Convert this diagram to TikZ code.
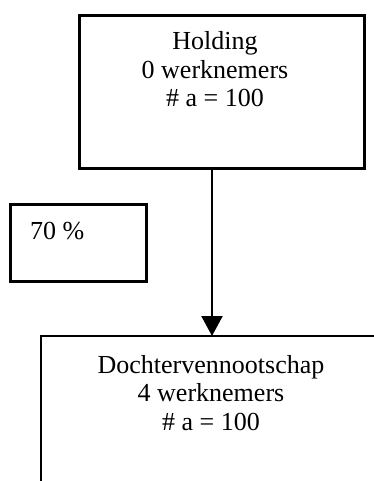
\documentclass[tikz,border=0pt]{standalone}
\usepackage{fontspec}
\setmainfont{Liberation Serif}
\usetikzlibrary{arrows.meta}
\begin{document}
\begin{tikzpicture}[x=1pt,y=-1pt,
  frame/.style={draw,line width=2.8pt,inner sep=0pt},
  lbl/.style={font=\fontsize{26}{28.5}\selectfont,align=center,inner sep=0pt},
  link/.style={line width=2.2pt,-{Triangle[width=21pt,length=20pt]}}]
\useasboundingbox (0,0) rectangle (373,481);
% parent company
\node[frame,minimum width=285pt,minimum height=153pt,anchor=north west] (holding) at (78,14) {};
\node[lbl,anchor=base] (htext) at (215,107) {Holding\\0 werknemers\\\# a = 100};
% share percentage
\node[frame,minimum width=136pt,minimum height=77pt,anchor=north west] (share) at (9,203) {};
\node[lbl,anchor=base west] (stext) at (30,239) {70 \%};
% subsidiary, open frame running off the page
\coordinate (dtop) at (212,336);
\coordinate (dcorner) at (41,336);
\draw[line width=2.8pt] (41,483) -- (dcorner) -- (376,336);
\node[lbl,anchor=base] (dtext) at (211,430) {Dochtervennootschap\\4 werknemers\\\# a = 100};
% ownership arrow
\draw[link] (holding.south -| dtop) -- (dtop);
\end{tikzpicture}
\end{document}
